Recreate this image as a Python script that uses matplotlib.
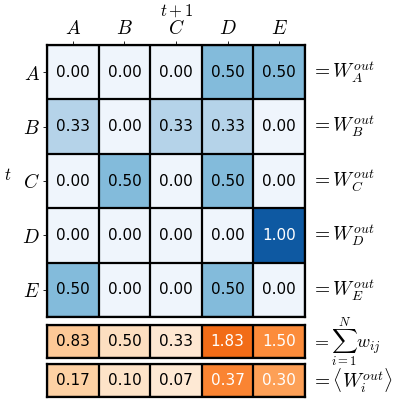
import numpy as np
import matplotlib
matplotlib.use("Agg")
import matplotlib.pyplot as plt
from matplotlib import colors

plt.rcParams['mathtext.fontset'] = 'cm'

labels = ['A', 'B', 'C', 'D', 'E']
W = [[0.00, 0.00, 0.00, 0.50, 0.50],
     [0.33, 0.00, 0.33, 0.33, 0.00],
     [0.00, 0.50, 0.00, 0.50, 0.00],
     [0.00, 0.00, 0.00, 0.00, 1.00],
     [0.50, 0.00, 0.00, 0.50, 0.00]]
col_sum = [0.83, 0.50, 0.33, 1.83, 1.50]
col_mean = [0.17, 0.10, 0.07, 0.37, 0.30]

W = np.array(W)
n = len(labels)

fig = plt.figure(figsize=(3.95, 4.04), dpi=100)

def draw(ax, data, cmap, norm, thresh):
    data = np.atleast_2d(data)
    ax.imshow(data, cmap=cmap, norm=norm, aspect='auto')
    r, c = data.shape
    for i in range(r):
        for j in range(c):
            v = data[i, j]
            col = 'white' if norm(v) > thresh else 'black'
            ax.text(j, i, f"{v:.2f}", ha='center', va='center', fontsize=11,
                    color=col, family='DejaVu Sans')
    for k in range(c + 1):
        ax.axvline(k - 0.5, color='black', lw=1.6)
    for k in range(r + 1):
        ax.axhline(k - 0.5, color='black', lw=1.6)
    for s in ax.spines.values():
        s.set_linewidth(1.6)
    ax.set_xlim(-0.5, c - 0.5)
    ax.set_ylim(r - 0.5, -0.5)

ax = fig.add_axes([47/395, 1 - 317/404, 258/395, 272/404])
draw(ax, W, plt.cm.Blues, colors.Normalize(-0.05, 1.2), 0.6)
ax.xaxis.tick_top()
ax.set_xticks(range(n))
ax.set_xticklabels([f"${l}$" for l in labels], fontsize=14)
ax.set_yticks(range(n))
ax.set_yticklabels([f"${l}$" for l in labels], fontsize=14)
ax.tick_params(length=3, width=0.6, pad=2)
fig.text(177/395, 1 - 11/404, "$t+1$", ha='center', va='center', fontsize=12)
fig.text(8/395, 1 - 175/404, "$t$", ha='center', va='center', fontsize=12)
for i, l in enumerate(labels):
    ax.text(n - 0.5 + 0.12, i, f"$= W_{{{l}}}^{{out}}$", ha='left', va='center', fontsize=14)

ax2 = fig.add_axes([47/395, 1 - 358/404, 258/395, 33/404])
draw(ax2, col_sum, plt.cm.Oranges, colors.Normalize(0, 3.0), 0.42)
ax2.set_xticks([]); ax2.set_yticks([])
ax2.text(n - 0.5 + 0.12, 0, r"$=\sum_{i=1}^{N} w_{ij}$", ha='left', va='center', fontsize=13)

ax3 = fig.add_axes([47/395, 1 - 397/404, 258/395, 33/404])
draw(ax3, col_mean, plt.cm.Oranges, colors.Normalize(0, 0.7), 0.42)
ax3.set_xticks([]); ax3.set_yticks([])
ax3.text(n - 0.5 + 0.12, 0, r"$=\langle W_i^{out}\rangle$", ha='left', va='center', fontsize=14)

fig.savefig("out.png", dpi=100)
